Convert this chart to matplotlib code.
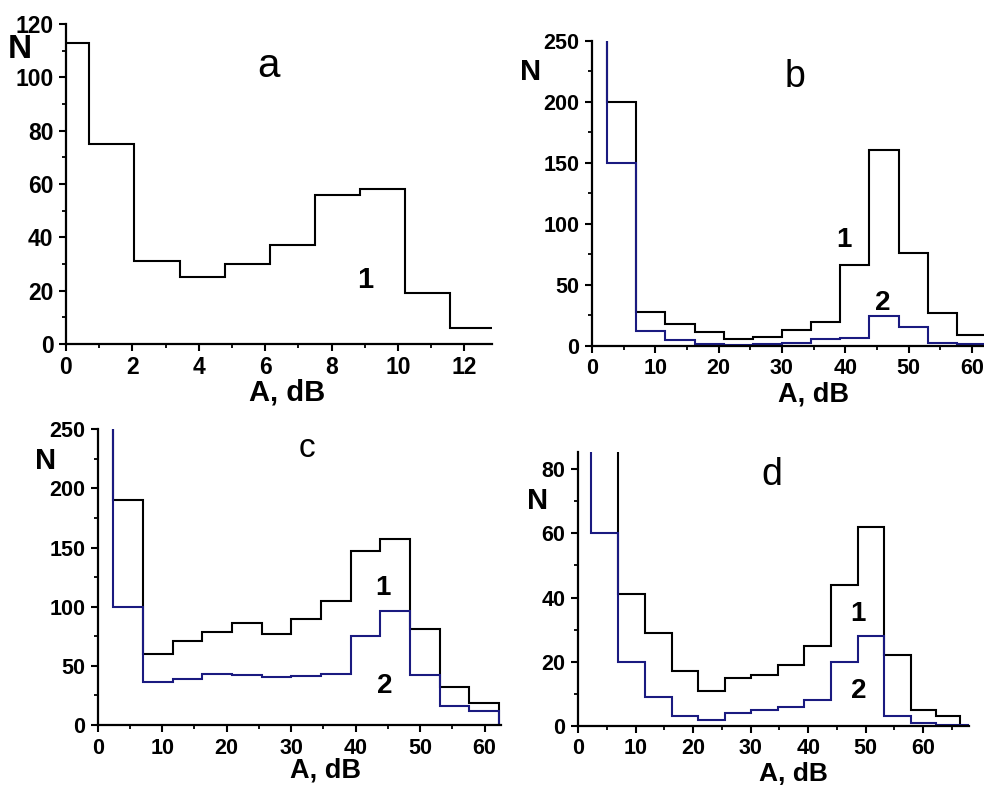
#!/usr/bin/env python3
"""
Four amplitude histograms (panels a-d): counts N versus amplitude A, dB.
Curve 1 black, curve 2 navy.
"""

import matplotlib
matplotlib.use("Agg")
import matplotlib.pyplot as plt
from matplotlib.ticker import MultipleLocator

plt.rcParams['font.family'] = ['Liberation Sans', 'DejaVu Sans']

BLUE = '#1a1a80'

# ---- panel a (curve 1 only) ----
A_EDGES = [-0.66, 0.70, 2.06, 3.42, 4.78, 6.14, 7.50, 8.86, 10.22, 11.58, 12.94]
A_CURVE1 = [113, 75, 31, 25, 30, 37, 56, 58, 19, 6]

# ---- panels b and c share the same bins ----
BC_EDGES = [-2.2, 2.4, 7.0, 11.6, 16.2, 20.8, 25.4, 30.0, 34.6, 39.2,
            43.8, 48.4, 53.0, 57.6, 62.2]
# the first bin is off scale in the original figure
B_CURVE1 = [400, 200, 28, 18, 11, 5.5, 7.4, 12.8, 19.7, 66, 160, 76, 27, 8.7]
B_CURVE2 = [400, 150, 12, 4.6, 1.4, 0.6, 1, 2, 5.7, 6.6, 24.6, 15.6, 2, 1]

C_CURVE1 = [400, 190, 60, 71, 79, 86.5, 77, 90, 105, 147, 157.5, 81, 32, 19]
C_CURVE2 = [400, 100, 36, 39, 43, 42, 40.3, 41.4, 43, 75, 96, 42, 16, 12]

# ---- panel d ----
D_EDGES = [-2.4, 2.2, 7.0, 11.6, 16.3, 20.9, 25.5, 30.1, 34.8, 39.3,
           44.0, 48.7, 53.2, 57.8, 62.2, 66.4, 71.0]
D_CURVE1 = [300, 300, 41, 29, 17, 11, 15, 16, 19, 25, 44, 62, 22, 5, 3, 0]
D_CURVE2 = [300, 60, 20, 9, 3, 2, 4, 5, 6, 8, 20, 28, 3, 1, 0.3, 0.3]

W, H = 984, 787


def px_axes(fig, left, top, right, bottom):
    """axes from pixel box (origin top-left)"""
    return fig.add_axes([left / W, 1 - bottom / H, (right - left) / W, (bottom - top) / H])


def style_axes(ax, xmaj, xmin, ymaj, ymin, tick_size):
    ax.spines['top'].set_visible(False)
    ax.spines['right'].set_visible(False)
    for s in ('left', 'bottom'):
        ax.spines[s].set_linewidth(1.6)
    ax.xaxis.set_major_locator(MultipleLocator(xmaj))
    ax.xaxis.set_minor_locator(MultipleLocator(xmin))
    ax.yaxis.set_major_locator(MultipleLocator(ymaj))
    ax.yaxis.set_minor_locator(MultipleLocator(ymin))
    ax.tick_params(which='major', direction='out', length=5, width=1.5,
                   labelsize=tick_size, pad=4)
    ax.tick_params(which='minor', direction='out', length=3, width=1.3)
    for lab in ax.get_xticklabels() + ax.get_yticklabels():
        lab.set_fontweight('bold')


def ftext(fig, x, y, s, size, bold=True):
    fig.text(x / W, 1 - y / H, s, fontsize=size, ha='center', va='baseline',
             fontweight='bold' if bold else 'normal')


def main():
    fig = plt.figure(figsize=(W / 100, H / 100), dpi=100)

    # a
    ax = px_axes(fig, 66, 24, 492, 344)
    ax.stairs(A_CURVE1, A_EDGES, color='black', lw=1.5)
    ax.set_xlim(0, 12.83)
    ax.set_ylim(0, 120)
    style_axes(ax, 2, 1, 20, 10, 16.5)
    ax.text(6.1, 100, 'a', fontsize=29, ha='center', va='baseline')
    ax.text(9.0, 21, '1', fontsize=21, fontweight='bold', ha='center', va='baseline')
    ftext(fig, 20, 58, 'N', 24)
    ftext(fig, 287, 401, 'A, dB', 21)

    # b
    ax = px_axes(fig, 592, 40.7, 984, 345.7)
    ax.stairs(B_CURVE1, BC_EDGES, color='black', lw=1.5)
    ax.stairs(B_CURVE2, BC_EDGES, color=BLUE, lw=1.5)
    ax.set_xlim(0, 61.9)
    ax.set_ylim(0, 250)
    style_axes(ax, 10, 5, 50, 25, 15.5)
    ax.text(32.1, 212, 'b', fontsize=27, ha='center', va='baseline')
    ax.text(39.8, 81, '1', fontsize=20, fontweight='bold', ha='center', va='baseline')
    ax.text(45.9, 29, '2', fontsize=20, fontweight='bold', ha='center', va='baseline')
    ftext(fig, 531, 80, 'N', 21)
    ftext(fig, 813, 402, 'A, dB', 19.5)

    # c
    ax = px_axes(fig, 97.7, 429.3, 500.8, 725)
    ax.stairs(C_CURVE1, BC_EDGES, color='black', lw=1.5)
    ax.stairs(C_CURVE2, BC_EDGES, color=BLUE, lw=1.5)
    ax.set_xlim(0, 62.5)
    ax.set_ylim(0, 250)
    style_axes(ax, 10, 5, 50, 25, 15.5)
    ax.text(32.5, 227, 'c', fontsize=24, ha='center', va='baseline')
    ax.text(44.2, 110, '1', fontsize=20, fontweight='bold', ha='center', va='baseline')
    ax.text(44.5, 27, '2', fontsize=20, fontweight='bold', ha='center', va='baseline')
    ftext(fig, 45.7, 469, 'N', 21)
    ftext(fig, 325, 778, 'A, dB', 19.5)

    # d
    ax = px_axes(fig, 578, 451.7, 969.3, 726)
    ax.stairs(D_CURVE1, D_EDGES, color='black', lw=1.5)
    ax.stairs(D_CURVE2, D_EDGES, color=BLUE, lw=1.5)
    ax.set_xlim(0, 68)
    ax.set_ylim(0, 85.4)
    style_axes(ax, 10, 5, 20, 10, 15.5)
    ax.text(33.6, 75, 'd', fontsize=27, ha='center', va='baseline')
    ax.text(48.6, 32.6, '1', fontsize=20, fontweight='bold', ha='center', va='baseline')
    ax.text(48.8, 8.8, '2', fontsize=20, fontweight='bold', ha='center', va='baseline')
    ftext(fig, 537.7, 509, 'N', 21)
    ftext(fig, 793.7, 781, 'A, dB', 19)

    fig.savefig('out.png', dpi=100)
    plt.close(fig)


if __name__ == "__main__":
    main()
